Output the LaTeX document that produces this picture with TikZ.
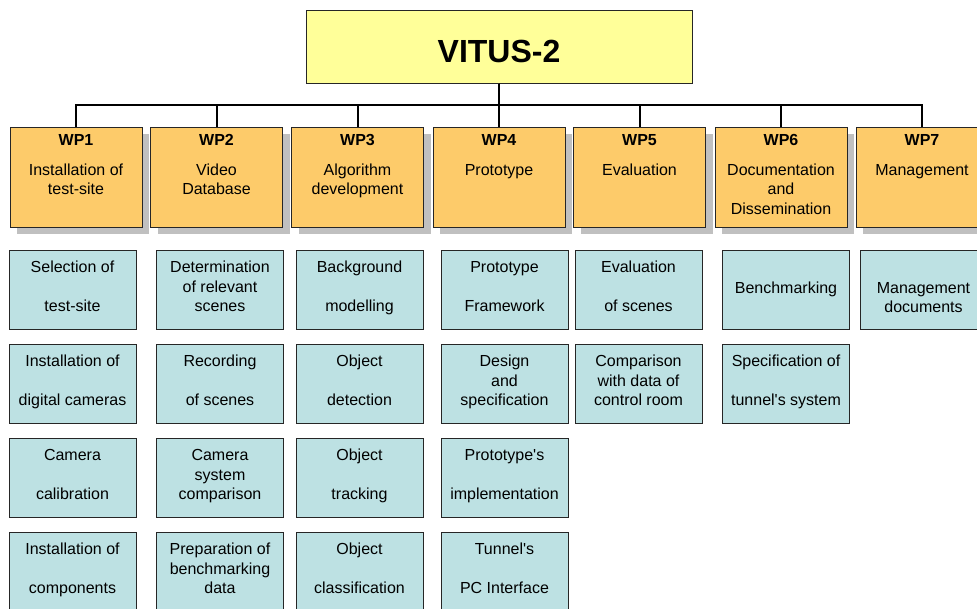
\documentclass[tikz,border=0pt]{standalone}
\usepackage{fontspec}
\setmainfont{Liberation Sans}
\usepackage{tikz}
\usetikzlibrary{shadows}
\definecolor{vitusyellow}{HTML}{FFFF99}
\definecolor{wporange}{HTML}{FDCB6A}
\definecolor{taskblue}{HTML}{BDE1E3}
\definecolor{shadowgray}{HTML}{C0C0C0}

\begin{document}
\begin{tikzpicture}[x=1pt,y=-1pt,
		textstyle/.style={align=center, inner sep=0pt, font=\fontsize{16}{19.5}\selectfont,
			execute at begin node=\strut, execute at end node=\strut},
		topbox/.style={draw=black!85, line width=1pt, fill=vitusyellow, minimum width=386pt,
			minimum height=73pt, font=\fontsize{32}{38}\selectfont\bfseries, text height=31pt, text depth=0pt},
		wpbox/.style={textstyle, draw=black!85, line width=1pt, fill=wporange, minimum width=132pt,
			minimum height=100pt, general shadow={fill=shadowgray, shadow xshift=7pt, shadow yshift=-7pt},
			execute at end node={\rule[-2.65pt]{0pt}{10pt}}},
		taskbox/.style={textstyle, draw=black!85, line width=1pt, fill=taskblue, minimum width=127pt,
			minimum height=79pt},
		link/.style={line width=2pt}]
			\useasboundingbox (0,0) rectangle (977,608);
			
			\node[topbox] (vitus) at (499,46.5) {VITUS-2};
			\coordinate (bus) at (0,105);
			
			\node[wpbox] (wp1) at (76,177) {\textbf{WP1}\\[10.5pt]Installation of\\test-site\\};
			\node[wpbox] (wp2) at (216.5,177) {\textbf{WP2}\\[10.5pt]Video\\Database\\};
			\node[wpbox] (wp3) at (357.5,177) {\textbf{WP3}\\[10.5pt]Algorithm\\development\\};
			\node[wpbox] (wp4) at (499,177) {\textbf{WP4}\\[10.5pt]Prototype\\\strut\\};
			\node[wpbox] (wp5) at (639.5,177) {\textbf{WP5}\\[10.5pt]Evaluation\\\strut\\};
			\node[wpbox] (wp6) at (781,177) {\textbf{WP6}\\[10.5pt]Documentation\\and\\Dissemination};
			\node[wpbox] (wp7) at (922,177) {\textbf{WP7}\\[10.5pt]Management\\\strut\\};
			
			\draw[link] (vitus.south) -- (vitus.south |- bus) -| (wp1.north);
			\draw[link] (vitus.south) -- (vitus.south |- bus) -| (wp2.north);
			\draw[link] (vitus.south) -- (vitus.south |- bus) -| (wp3.north);
			\draw[link] (vitus.south) -- (wp4.north);
			\draw[link] (vitus.south) -- (vitus.south |- bus) -| (wp5.north);
			\draw[link] (vitus.south) -- (vitus.south |- bus) -| (wp6.north);
			\draw[link] (vitus.south) -- (vitus.south |- bus) -| (wp7.north);
			
			\node[taskbox] (t11) at (72.5,289.5) {Selection of\\\strut\\test-site};
			\node[taskbox] (t12) at (72.5,383.5) {Installation of\\\strut\\digital cameras};
			\node[taskbox] (t13) at (72.5,477.5) {Camera\\\strut\\calibration};
			\node[taskbox] (t14) at (72.5,571.5) {Installation of\\\strut\\components};
			
			\node[taskbox] (t21) at (220,289.5) {Determination\\of relevant\\scenes};
			\node[taskbox] (t22) at (220,383.5) {Recording\\\strut\\of scenes};
			\node[taskbox] (t23) at (220,477.5) {Camera\\system\\comparison};
			\node[taskbox] (t24) at (220,571.5) {Preparation of\\benchmarking\\data};
			
			\node[taskbox] (t31) at (359.5,289.5) {Background\\\strut\\modelling};
			\node[taskbox] (t32) at (359.5,383.5) {Object\\\strut\\detection};
			\node[taskbox] (t33) at (359.5,477.5) {Object\\\strut\\tracking};
			\node[taskbox] (t34) at (359.5,571.5) {Object\\\strut\\classification};
			
			\node[taskbox] (t41) at (504.5,289.5) {Prototype\\\strut\\Framework};
			\node[taskbox] (t42) at (504.5,383.5) {Design\\and\\specification};
			\node[taskbox] (t43) at (504.5,477.5) {Prototype\textquotesingle s\\\strut\\implementation};
			\node[taskbox] (t44) at (504.5,571.5) {Tunnel\textquotesingle s\\\strut\\PC Interface};
			
			\node[taskbox] (t51) at (638.5,289.5) {Evaluation\\\strut\\of scenes};
			\node[taskbox] (t52) at (638.5,383.5) {Comparison\\with data of\\control room};
			
			\node[taskbox] (t61) at (786,289.5) {\strut\\Benchmarking\\\strut};
			\node[taskbox] (t62) at (786,383.5) {Specification of\\\strut\\tunnel\textquotesingle s system};
			
			\node[taskbox] (t71) at (923.5,289.5) {\strut\\Management\\documents};
		\end{tikzpicture}
\end{document}
